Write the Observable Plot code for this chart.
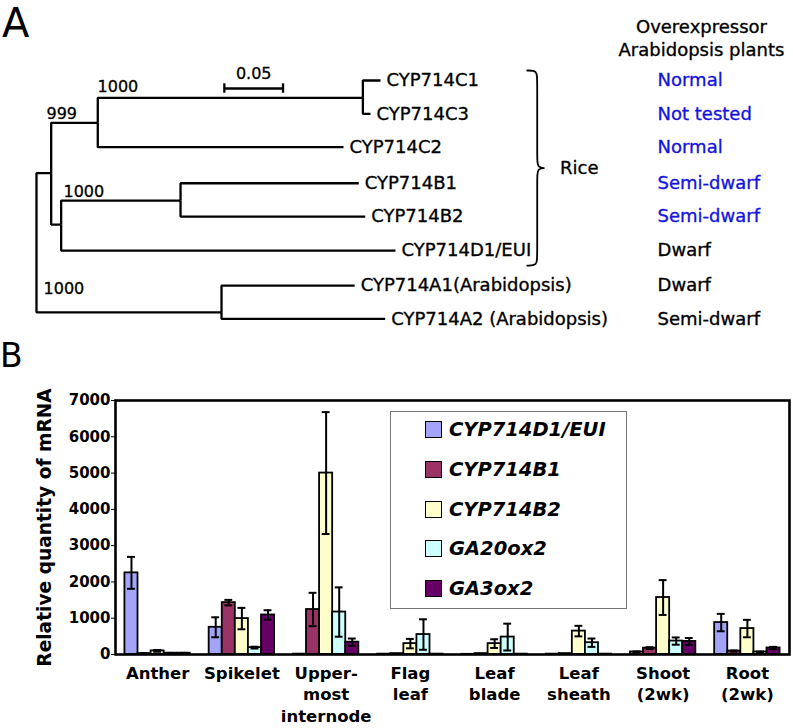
<!DOCTYPE html>
<html><head><meta charset="utf-8">
<script src="https://cdn.jsdelivr.net/npm/d3@7"></script>
<script src="https://cdn.jsdelivr.net/npm/@observablehq/plot@0.6"></script>
<style>
html,body{margin:0;padding:0;background:#fff;}
#fig{position:relative;width:793px;height:728px;overflow:hidden;font-family:"DejaVu Sans",sans-serif;}
#tree{position:absolute;left:0;top:0;}
#bars{position:absolute;left:0;top:340px;}
.panel{position:absolute;font-family:"DejaVu Sans",sans-serif;line-height:1;color:#000;}
#legend{position:absolute;left:390px;top:411px;width:235px;height:196px;border:1px solid #777;background:#fff;}
.item{position:absolute;left:34px;height:20px;display:flex;align-items:center;font:italic bold 19.5px "DejaVu Sans",sans-serif;color:#000;white-space:nowrap;}
.sw{width:15px;height:15px;border:1.7px solid #000;margin-right:7px;flex:none;}
</style></head>
<body><div id="fig">
<div id="tree"></div><div id="bars"></div>
<div class="panel" style="left:2px;top:3px;font-size:40px">A</div>
<div class="panel" style="left:0px;top:339px;font-size:33px">B</div>
<div id="legend"></div>
</div>
<script>
// ---------- Panel A data (tree) ----------
const nodeIds     = ["root","n999","nC","nC13","C1","C3","C2","nBD","nB","B1","B2","D1","nA","A1","A2"];
const nodeParents = [null,"root","n999","nC","nC13","nC13","nC","n999","nBD","nB","nB","nBD","root","nA","nA"];
const nodeDist    = [0,0.0125,0.0522,0.278,0.293,0.2845,0.2615,0.021,0.1227,0.2745,0.280,0.3058,0.1576,0.271,0.297];
const nodeRow     = [4.9,2.78,1.27,0.52,0,1.0,2.0,4.32,3.6,3.08,4.08,5.1,6.95,6.15,7.15];
const leafIds     = ["C1","C3","C2","B1","B2","D1","A1","A2"];
const leafLabels  = ["CYP714C1","CYP714C3","CYP714C2","CYP714B1","CYP714B2","CYP714D1/EUI","CYP714A1(Arabidopsis)","CYP714A2 (Arabidopsis)"];
const phenotypes  = ["Normal","Not tested","Normal","Semi-dwarf","Semi-dwarf","Dwarf","Dwarf","Semi-dwarf"];
const testedHere  = [true,true,true,true,true,false,false,false];
const riceLeaves  = ["C1","C3","C2","B1","B2","D1"];
const bootValue   = ["1000","999","1000","1000"];
const bootDist    = [0.052, 0.0085, 0.023, 0.006];
const bootRow     = [0.18, 0.99, 3.33, 6.24];
const scaleBarLen = 0.05;

// ---------- Panel B data (bars) ----------
const tissues = ["Anther","Spikelet","Upper-most internode","Flag leaf","Leaf blade","Leaf sheath","Shoot (2wk)","Root (2wk)"];
const tissueTickLabels = ["Anther","Spikelet","Upper-\nmost\ninternode","Flag\nleaf","Leaf\nblade","Leaf\nsheath","Shoot\n(2wk)","Root\n(2wk)"];
const genes = ["CYP714D1/EUI","CYP714B1","CYP714B2","GA20ox2","GA3ox2"];
const geneColors = ["#a3a3f7","#993366","#ffffcc","#ccffff","#660066"];
const valD1   = [2250, 750, 10, 10, 5, 10, 70, 880];
const valB1   = [25, 1430, 1240, 25, 25, 25, 175, 95];
const valB2   = [100, 990, 5000, 300, 300, 645, 1570, 715];
const valGA20 = [35, 190, 1170, 550, 480, 325, 370, 70];
const valGA3  = [35, 1090, 340, 10, 10, 10, 360, 180];
const errD1   = [440, 275, 0, 0, 0, 0, 15, 240];
const errB1   = [10, 75, 460, 0, 0, 0, 25, 15];
const errB2   = [25, 295, 1680, 130, 120, 145, 480, 240];
const errGA20 = [10, 25, 680, 420, 370, 115, 100, 10];
const errGA3  = [10, 130, 100, 0, 0, 0, 95, 30];
const yTicks  = [0,1000,2000,3000,4000,5000,6000,7000];
const yTitle  = "Relative quantity of mRNA";

// ---------- Panel A ----------
const nodes = nodeIds.map((id,i)=>({id, parent: nodeParents[i], dist: nodeDist[i], row: nodeRow[i]}));
const byId = new Map(nodes.map(n=>[n.id,n]));
const edges = nodes.filter(n=>n.parent).map(n=>({p: byId.get(n.parent), c: n}));
const leaves = leafIds.map((id,i)=>({...byId.get(id), label: leafLabels[i], pheno: phenotypes[i], tested: testedHere[i]}));
const boots = bootValue.map((t,i)=>({x: bootDist[i], row: bootRow[i], text: t}));

const riceRows = riceLeaves.map(id=>byId.get(id).row);
const bTop = d3.min(riceRows) - 0.3, bBot = d3.max(riceRows) + 0.45, bMid = (bTop + bBot)/2;
const BX = 0.418, BW = 0.0085;
const brace = [[BX,bTop],[BX+BW,bTop],[BX+BW,bTop+0.3],[BX+BW,bMid-0.3],[BX+BW,bMid],[BX+2*BW,bMid],[BX+BW,bMid],[BX+BW,bMid+0.3],[BX+BW,bBot-0.3],[BX+BW,bBot],[BX,bBot]];
const SBX = 0.16, SBROW = 0.24;
const PHENO_X = 0.529, HEAD_X = 0.5664;

const tree = Plot.plot({
  width: 793, height: 330, marginLeft: 36, marginRight: 0, marginTop: 0, marginBottom: 0,
  x: {domain: [0, 0.6448], axis: null},
  y: {domain: [-2.399, 7.496], range: [0, 330], axis: null},
  style: {fontFamily: '"DejaVu Sans", sans-serif', fontSize: "18px", color: "#000", background: "transparent"},
  marks: [
    Plot.link(edges, {x1: d=>d.p.dist, y1: d=>d.p.row, x2: d=>d.c.dist, y2: d=>d.c.row, curve: "step-before", stroke: "#000", strokeWidth: 2.3}),
    Plot.text(leaves, {x: "dist", y: "row", text: "label", textAnchor: "start", dx: 6, fill: "#000", stroke: "#000", strokeWidth: 0.35}),
    Plot.text(boots, {x: "x", y: "row", text: "text", textAnchor: "start", fontSize: 16, fill: "#000", stroke: "#000", strokeWidth: 0.3}),
    Plot.link([scaleBarLen], {x1: SBX, x2: d=>SBX+d, y1: SBROW, y2: SBROW, stroke: "#000", strokeWidth: 2.3}),
    Plot.ruleX([0, scaleBarLen], {x: d=>SBX+d, y1: SBROW-0.14, y2: SBROW+0.14, stroke: "#000", strokeWidth: 2.3}),
    Plot.text([scaleBarLen], {x: d=>SBX+d/2, y: SBROW, text: d=>String(d), dy: -15, fontSize: 16, fill: "#000", stroke: "#000", strokeWidth: 0.3}),
    Plot.line(brace, {x: d=>d[0], y: d=>d[1], curve: "basis", stroke: "#000", strokeWidth: 1.8}),
    Plot.text(["Rice"], {x: BX+2*BW+0.011, y: bMid, text: d=>d, textAnchor: "start", fill: "#000", stroke: "#000", strokeWidth: 0.35}),
    Plot.text(["Overexpressor\nArabidopsis plants"], {x: HEAD_X, y: -1.3, text: d=>d, lineHeight: 1.28, fill: "#000", stroke: "#000", strokeWidth: 0.35}),
    Plot.text(leaves, {x: PHENO_X, y: "row", text: "pheno", textAnchor: "start", fill: d=>d.tested ? "#1414dc" : "#000", stroke: d=>d.tested ? "#1414dc" : "#000", strokeWidth: 0.35})
  ]
});
document.getElementById("tree").appendChild(tree);

// ---------- Panel B ----------
const vals = [valD1, valB1, valB2, valGA20, valGA3];
const errs = [errD1, errB1, errB2, errGA20, errGA3];
const rows = tissues.flatMap((t,i)=>genes.map((g,j)=>({tissue: t, gene: g, value: vals[j][i], err: errs[j][i]})));
const withErr = rows.filter(d=>d.err > 0);

const bars = Plot.plot({
  width: 793, height: 388, marginTop: 60, marginBottom: 74, marginLeft: 115, marginRight: 4,
  style: {fontFamily: '"DejaVu Sans", sans-serif', fontWeight: "bold", fontSize: "16px", color: "#000", background: "transparent"},
  fx: {domain: tissues, padding: 0, round: false, label: null},
  x: {domain: genes, paddingInner: 0, paddingOuter: 0.72, round: false, axis: null},
  y: {domain: [0, 7000], label: null},
  color: {domain: genes, range: geneColors},
  marks: [
    Plot.barY(rows, {fx: "tissue", x: "gene", y: "value", fill: "gene", stroke: "#000", strokeWidth: 1.8}),
    Plot.ruleX(withErr, {fx: "tissue", x: "gene", y1: d=>d.value-d.err, y2: d=>d.value+d.err, stroke: "#000", strokeWidth: 2}),
    Plot.tickY(withErr, {fx: "tissue", x: "gene", y: d=>d.value+d.err, insetLeft: 2.6, insetRight: 2.6, stroke: "#000", strokeWidth: 2}),
    Plot.tickY(withErr, {fx: "tissue", x: "gene", y: d=>d.value-d.err, insetLeft: 2.6, insetRight: 2.6, stroke: "#000", strokeWidth: 2}),
    Plot.frame({facet: "super", stroke: "#000", strokeWidth: 2.6}),
    Plot.axisY({ticks: yTicks, tickFormat: d=>String(d), tickSize: 4, tickPadding: 1, fontSize: 15, label: null}),
    Plot.axisFx({anchor: "bottom", tickSize: 0, tickPadding: 9, tickFormat: t=>tissueTickLabels[tissues.indexOf(t)], lineHeight: 1.3, fontSize: 16.5, label: null}),
    Plot.text([{fx: tissues[0], t: yTitle}], {fx: "fx", frameAnchor: "left", textAnchor: "middle", y: d3.mean(yTicks), rotate: -90, dx: -70, text: "t", fontSize: 18.6, fill: "#000"})
  ]
});
document.getElementById("bars").appendChild(bars);

// ---------- Legend (inside plot area) ----------
const cs = bars.scale("color");
const leg = document.getElementById("legend");
cs.domain.forEach((g,i)=>{
  const it = document.createElement("div");
  it.className = "item";
  it.style.top = (7.5 + 39.8*i) + "px";
  const sw = document.createElement("span");
  sw.className = "sw";
  sw.style.background = cs.range[i];
  const tx = document.createElement("span");
  tx.textContent = g;
  it.appendChild(sw); it.appendChild(tx);
  leg.appendChild(it);
});
</script>
</body></html>
